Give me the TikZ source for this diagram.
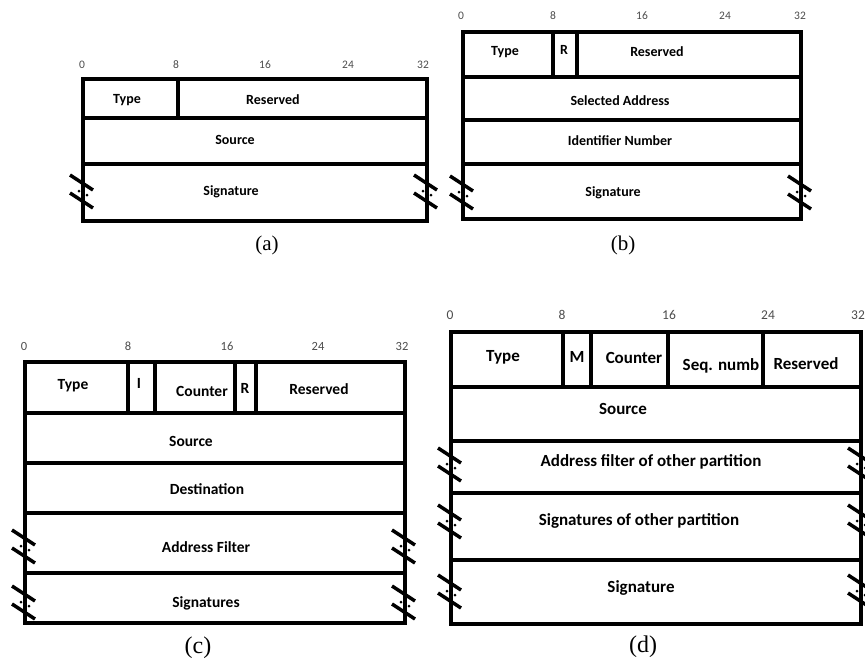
\documentclass[tikz,border=0pt]{standalone}
\usepackage{fontspec}
\setmainfont{Liberation Serif}
\newfontfamily\fieldfont{Carlito}
\usetikzlibrary{positioning}

\tikzset{
  pkt/.style={line width=3.6pt},
  fld/.style={font=\fieldfont\bfseries\fontsize{#1}{#1}\selectfont, inner sep=0pt},
  bit/.style={font=\fieldfont\fontsize{#1}{#1}\selectfont, text=black!70, inner sep=0pt},
  capt/.style={font=\fontsize{#1}{#1}\selectfont, inner sep=0pt},
  brk/.pic={\draw[line width=3.5pt] (-13,-17)--(10,-2) (-13,1)--(10,16);
            \fill (-4,-1) circle (1.5) (4,3) circle (1.5);}
}

\begin{document}
\begin{tikzpicture}[x=1pt,y=-1pt,line join=miter]
\useasboundingbox (0,0) rectangle (865,662);
% (a)
\draw[pkt] (83,79) rectangle (427,221) (83,118)--(427,118) (83,164)--(427,164) (178,79)--(178,118);
\foreach \x/\b in {82/0,176/8,265/16,348/24,423/32} \node[bit=11.5] (a\b) at (\x,65) {\b};
\node[fld=14] (aType) at (127,100) {Type};
\node[fld=14] (aRes) at (273,100) {Reserved};
\node[fld=14] (aSrc) at (235,140) {Source};
\node[fld=14] (aSig) at (231,192) {Signature};
\pic at (83,192) {brk}; \pic at (427,192) {brk};
\node[capt=21] (acap) at (267,245) {(a)};
% (b)
\draw[pkt] (463,32) rectangle (801,219) (463,77)--(801,77) (463,120)--(801,120) (463,164)--(801,164)
  (553,32)--(553,77) (577,32)--(577,77);
\foreach \x/\b in {461/0,553/8,642/16,725/24,800/32} \node[bit=11.5] (b\b) at (\x,16) {\b};
\node[fld=14] (bType) at (505,52) {Type};
\node[fld=14] (bR) at (564,50) {R};
\node[fld=14] (bRes) at (657,52) {Reserved};
\node[fld=14] (bSel) at (620,101) {Selected Address};
\node[fld=14] (bId) at (620,141) {Identifier Number};
\node[fld=14] (bSig) at (613,193) {Signature};
\pic at (463,193) {brk}; \pic at (801,193) {brk};
\node[capt=21] (bcap) at (623,245) {(b)};
% (c)
\draw[pkt] (25,362) rectangle (405,623) (25,413)--(405,413) (25,463)--(405,463) (25,513)--(405,513)
  (25,573)--(405,573) (128,362)--(128,413) (155,362)--(155,413) (235,362)--(235,413) (256,362)--(256,413);
\foreach \x/\b in {24/0,128/8,227/16,318/24,402/32} \node[bit=12.5] (c\b) at (\x,346) {\b};
\node[fld=15.5] (cType) at (73,386) {Type};
\node[fld=15.5] (cI) at (139,383) {I};
\node[fld=15.5] (cCnt) at (202,391) {Counter};
\node[fld=15.5] (cR) at (245,388) {R};
\node[fld=15.5] (cRes) at (319,389) {Reserved};
\node[fld=15.5] (cSrc) at (191,441) {Source};
\node[fld=15.5] (cDst) at (207,489) {Destination};
\node[fld=15.5] (cAf) at (206,547) {Address Filter};
\node[fld=15.5] (cSig) at (206,603) {Signatures};
\foreach \y in {547,603} {\pic at (25,\y) {brk}; \pic at (405,\y) {brk};}
\node[capt=24] (ccap) at (198,648) {(c)};
% (d)
\draw[pkt] (451,332) rectangle (861,624) (451,387)--(861,387) (451,441)--(861,441) (451,493)--(861,493)
  (451,560)--(861,560) (563,332)--(563,387) (591,332)--(591,387) (668,332)--(668,387) (763,332)--(763,387);
\foreach \x/\b in {450/0,562/8,669/16,768/24,858/32} \node[bit=13.5] (d\b) at (\x,315) {\b};
\node[fld=17] (dType) at (503,357) {Type};
\node[fld=17] (dM) at (577,357) {M};
\node[fld=17] (dCnt) at (634,358) {Counter};
\node[fld=17] (dSeq) at (721,366) {Seq. numb};
\node[fld=17] (dRes) at (806,364) {Reserved};
\node[fld=17] (dSrc) at (623,409) {Source};
\node[fld=17] (dAf) at (651,462) {Address filter of other partition};
\node[fld=17] (dSo) at (639,521) {Signatures of other partition};
\node[fld=17] (dSig) at (641,588) {Signature};
\foreach \y in {465,522,592} {\pic at (451,\y) {brk}; \pic at (861,\y) {brk};}
\node[capt=24] (dcap) at (643,647) {(d)};
\end{tikzpicture}
\end{document}
